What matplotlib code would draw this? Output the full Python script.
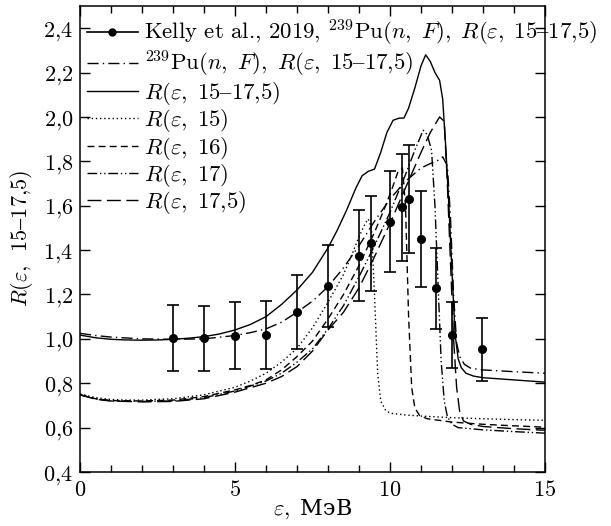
import matplotlib
matplotlib.use("Agg")
import matplotlib.pyplot as plt
from matplotlib.lines import Line2D
from matplotlib.ticker import MultipleLocator, FixedLocator

plt.rcParams['font.family'] = ['cmr10']
plt.rcParams['mathtext.fontset'] = 'cm'
plt.rcParams['axes.unicode_minus'] = False
plt.rcParams['axes.formatter.use_mathtext'] = True
plt.rcParams['font.size'] = 16

# Kelly et al., 2019 data points
kelly_x = [3.0, 4.0, 5.0, 6.0, 7.0, 8.0, 9.0, 9.4, 10.0, 10.4, 10.62, 11.0, 11.48, 12.0, 12.97]
kelly_y = [1.005, 1.002, 1.014, 1.017, 1.12, 1.238, 1.374, 1.431, 1.528, 1.592, 1.63, 1.45, 1.227, 1.017, 0.954]
kelly_err = [0.148, 0.148, 0.152, 0.152, 0.167, 0.186, 0.205, 0.214, 0.228, 0.24, 0.244, 0.216, 0.183, 0.15, 0.142]

# 239Pu(n,F), R(eps, 15-17.5)  (dash-dot)
pu_x = [0, 0.5, 1, 2, 3, 4, 5, 5.5, 6, 6.5, 7, 7.5, 8, 8.5, 9, 9.5, 10, 10.5, 11, 11.3, 11.5, 11.7,
        11.85, 11.95, 12.05, 12.15, 12.25, 12.4, 12.6, 13, 14, 15]
pu_y = [1.025, 1.015, 1.008, 1.0, 0.998, 1.0, 1.015, 1.028, 1.045, 1.075, 1.12, 1.17, 1.235, 1.32, 1.42,
        1.53, 1.63, 1.71, 1.77, 1.79, 1.8, 1.82, 1.78, 1.55, 1.2, 0.98, 0.92, 0.885, 0.868, 0.86, 0.852, 0.845]

# R(eps, 15-17.5)  (solid)
sum_x = [0, 0.5, 1, 1.5, 2, 2.5, 3, 3.5, 4, 4.5, 5, 5.5, 6, 6.5, 7, 7.5, 8, 8.3, 8.6, 8.9, 9.1, 9.3,
         9.5, 9.7, 9.9, 10.1, 10.3, 10.45, 10.6, 10.8, 11.0, 11.15, 11.3, 11.45, 11.6, 11.7, 11.8,
         11.9, 12.0, 12.1, 12.2, 12.3, 12.45, 12.7, 13.0, 13.5, 14.0, 14.5, 15]
sum_y = [1.017, 1.005, 0.998, 0.995, 0.994, 0.995, 0.998, 1.003, 1.01, 1.022, 1.04, 1.065, 1.1, 1.155,
         1.22, 1.3, 1.41, 1.49, 1.58, 1.68, 1.735, 1.755, 1.765, 1.84, 1.93, 1.985, 1.995, 1.995, 2.04,
         2.13, 2.23, 2.28, 2.25, 2.2, 2.165, 2.08, 1.86, 1.6, 1.3, 1.02, 0.91, 0.87, 0.845, 0.832, 0.825,
         0.82, 0.815, 0.81, 0.805]

# R(eps, 15)  (dotted)
r15_x = [0, 0.5, 1, 1.5, 2, 3, 4, 5, 5.5, 6, 6.5, 7, 7.5, 8, 8.5, 8.8, 9.0, 9.2, 9.3, 9.4, 9.5, 9.6,
         9.7, 9.85, 10, 10.5, 11, 12, 13, 14, 15]
r15_y = [0.752, 0.735, 0.727, 0.724, 0.724, 0.73, 0.748, 0.782, 0.81, 0.845, 0.895, 0.957, 1.05, 1.165,
         1.29, 1.39, 1.46, 1.52, 1.54, 1.5, 1.2, 0.85, 0.72, 0.68, 0.665, 0.657, 0.652, 0.645, 0.64,
         0.636, 0.633]

# R(eps, 16)  (dashed)
r16_x = [0, 0.5, 1, 2, 3, 4, 5, 5.5, 6, 6.5, 7, 7.5, 8, 8.5, 9, 9.5, 9.8, 10.05, 10.25, 10.4, 10.5,
         10.6, 10.7, 10.8, 10.95, 11.2, 12, 13, 14, 15]
r16_y = [0.748, 0.73, 0.722, 0.72, 0.724, 0.74, 0.77, 0.79, 0.815, 0.86, 0.92, 0.99, 1.09, 1.2, 1.33,
         1.48, 1.58, 1.67, 1.75, 1.77, 1.6, 1.1, 0.78, 0.69, 0.655, 0.64, 0.625, 0.615, 0.608, 0.602]

# R(eps, 17)  (dash-dot-dot)
r17_x = [0, 0.5, 1, 2, 3, 4, 5, 6, 6.5, 7, 7.5, 8, 8.5, 9, 9.5, 10, 10.5, 10.8, 11.07, 11.2, 11.34,
         11.45, 11.55, 11.65, 11.75, 11.85, 12.0, 12.2, 13, 14, 15]
r17_y = [0.748, 0.73, 0.72, 0.718, 0.72, 0.735, 0.765, 0.81, 0.845, 0.895, 0.955, 1.045, 1.15, 1.28,
         1.42, 1.57, 1.74, 1.85, 1.94, 1.92, 1.85, 1.6, 1.25, 0.9, 0.72, 0.65, 0.615, 0.6, 0.59, 0.582, 0.575]

# R(eps, 17.5)  (long dashed)
r175_x = [0, 0.5, 1, 2, 3, 4, 5, 6, 6.5, 7, 7.5, 8, 8.5, 9, 9.5, 10, 10.5, 11, 11.3, 11.6, 11.75,
          11.85, 11.95, 12.05, 12.15, 12.25, 12.37, 12.6, 13, 13.5, 14, 15]
r175_y = [0.748, 0.728, 0.72, 0.716, 0.718, 0.73, 0.76, 0.8, 0.83, 0.875, 0.945, 1.04, 1.12, 1.23, 1.37,
          1.52, 1.68, 1.84, 1.93, 2.0, 1.98, 1.7, 1.35, 1.0, 0.78, 0.67, 0.63, 0.615, 0.605, 0.6, 0.595, 0.588]

x_ticks = [0, 5, 10, 15]
x_ticklabels = ["$0$", "$5$", "$10$", "$15$"]
y_ticks = [0.4, 0.6, 0.8, 1.0, 1.2, 1.4, 1.6, 1.8, 2.0, 2.2, 2.4]
y_ticklabels = ["$0{,}4$", "$0{,}6$", "$0{,}8$", "$1{,}0$", "$1{,}2$", "$1{,}4$", "$1{,}6$",
                "$1{,}8$", "$2{,}0$", "$2{,}2$", "$2{,}4$"]

fig = plt.figure(figsize=(6.11, 5.26), dpi=100)
ax = fig.add_axes([80 / 611, 54 / 526, 465 / 611, 466 / 526])

lw = 1.0
ax.errorbar(kelly_x, kelly_y, yerr=kelly_err, fmt='o', color='black', ms=5.5, elinewidth=1.2,
            capsize=4.5, capthick=1.2, zorder=5)
ax.plot(pu_x, pu_y, color='black', lw=lw, linestyle=(0, (8, 3, 1, 3)))
ax.plot(sum_x, sum_y, color='black', lw=lw, linestyle='-')
ax.plot(r15_x, r15_y, color='black', lw=lw, linestyle=(0, (1, 2)))
ax.plot(r16_x, r16_y, color='black', lw=lw, linestyle=(0, (5, 3)))
ax.plot(r17_x, r17_y, color='black', lw=lw, linestyle=(0, (7, 2, 1, 2, 1, 2)))
ax.plot(r175_x, r175_y, color='black', lw=lw, linestyle=(0, (10, 4)))

ax.set_xlim(0, 15)
ax.set_ylim(0.4, 2.5)
ax.xaxis.set_major_locator(FixedLocator(x_ticks))
ax.set_xticklabels(x_ticklabels)
ax.xaxis.set_minor_locator(MultipleLocator(1))
ax.yaxis.set_major_locator(FixedLocator(y_ticks))
ax.set_yticklabels(y_ticklabels)
ax.tick_params(which='both', direction='in', top=True, right=True, width=1.0, labelsize=16)
ax.tick_params(which='major', length=7)
ax.tick_params(which='minor', length=5)
ax.tick_params(axis='y', which='major', pad=5)
ax.tick_params(axis='x', which='major', pad=6)
for s in ax.spines.values():
    s.set_linewidth(1.1)

ax.set_xlabel("$\\varepsilon,\\ $МэВ", fontsize=16, labelpad=-2, fontfamily='DejaVu Serif')
ax.set_ylabel("$R(\\varepsilon,\\ \\,15–17{,}5)$", fontsize=16, labelpad=6)

handles = [
    Line2D([], [], color='black', lw=1.2, marker='o', ms=5),
    Line2D([], [], color='black', lw=lw, linestyle=(0, (8, 3, 1, 3))),
    Line2D([], [], color='black', lw=lw, linestyle='-'),
    Line2D([], [], color='black', lw=lw, linestyle=(0, (1, 2))),
    Line2D([], [], color='black', lw=lw, linestyle=(0, (5, 3))),
    Line2D([], [], color='black', lw=lw, linestyle=(0, (7, 2, 1, 2, 1, 2))),
    Line2D([], [], color='black', lw=lw, linestyle=(0, (10, 4))),
]
labels = [
    "Kelly et al., 2019, " + "${}^{239}\\mathrm{Pu}(n{,}\\ \\,F){,}\\ \\,R(\\varepsilon{,}\\ \\,15–17{,}5)$",
    "${}^{239}\\mathrm{Pu}(n{,}\\ \\,F){,}\\ \\,R(\\varepsilon{,}\\ \\,15–17{,}5)$",
    "$R(\\varepsilon{,}\\ \\,15–17{,}5)$",
    "$R(\\varepsilon{,}\\ \\,15)$",
    "$R(\\varepsilon{,}\\ \\,16)$",
    "$R(\\varepsilon{,}\\ \\,17)$",
    "$R(\\varepsilon{,}\\ \\,17{,}5)$",
]
leg = ax.legend(handles, labels, loc='upper left', bbox_to_anchor=(-0.015, 1.003), frameon=False,
                fontsize=16.4, handlelength=2.25, handletextpad=0.25, labelspacing=0.02,
                borderaxespad=0.2)
leg.set_clip_on(False)

fig.savefig("out.png", dpi=100)
